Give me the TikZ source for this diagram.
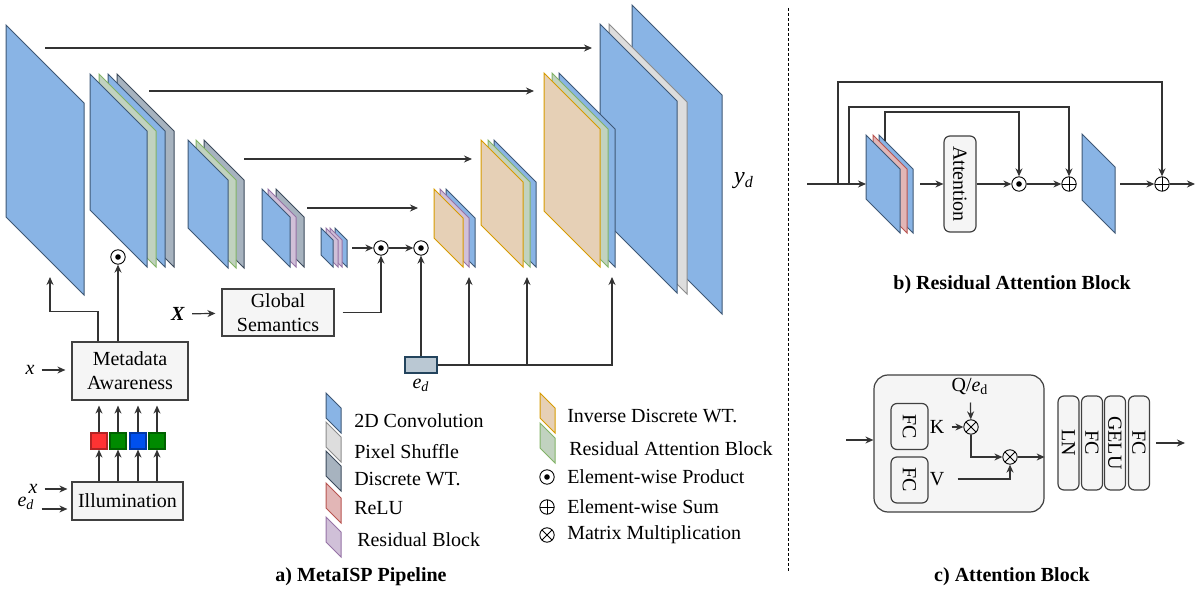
\documentclass[tikz,border=0pt]{standalone}
\usepackage{fontspec}
\setmainfont{Liberation Serif}
\usetikzlibrary{arrows.meta,positioning}

\definecolor{convfill}{RGB}{137,180,229}
\definecolor{convline}{RGB}{62,88,118}
\definecolor{dwtfill}{RGB}{167,179,191}
\definecolor{dwtline}{RGB}{60,75,92}
\definecolor{rabfill}{RGB}{193,210,191}
\definecolor{rabline}{RGB}{130,179,102}
\definecolor{shuffill}{RGB}{221,221,221}
\definecolor{shufline}{RGB}{140,140,140}
\definecolor{idwtfill}{RGB}{230,208,182}
\definecolor{idwtline}{RGB}{215,155,0}
\definecolor{relufill}{RGB}{226,182,182}
\definecolor{reluline}{RGB}{184,84,80}
\definecolor{resbfill}{RGB}{208,192,216}
\definecolor{resbline}{RGB}{150,115,166}
\definecolor{edfill}{RGB}{186,200,211}
\definecolor{edline}{RGB}{35,68,93}
\definecolor{chred}{RGB}{255,51,51}
\definecolor{chgreen}{RGB}{0,138,0}
\definecolor{chblue}{RGB}{0,80,239}

% feature map: style, left x, top y, width (= skew), height
\newcommand{\fmap}[5]{\draw[#1] (#2,#3) -- ++(#4,#4) -- ++(0,#5) -- ++(-#4,-#4) -- cycle;}

\begin{document}
\begin{tikzpicture}[x=0.5pt,y=-0.5pt,>={Stealth[length=4pt,width=3.5pt]},line width=0.6pt,
    conn/.style={->,draw=black!80},
    conv/.style={fill=convfill,draw=convline,line width=0.5pt},
    dwt/.style={fill=dwtfill,draw=dwtline,line width=0.5pt},
    rab/.style={fill=rabfill,draw=rabline,line width=0.5pt},
    shuf/.style={fill=shuffill,draw=shufline,line width=0.5pt},
    idwt/.style={fill=idwtfill,draw=idwtline,line width=0.5pt},
    relu/.style={fill=relufill,draw=reluline,line width=0.5pt},
    resb/.style={fill=resbfill,draw=resbline,line width=0.5pt},
    box/.style={draw=black!75,fill=black!4,align=center,inner sep=1pt},
    rbox/.style={box,rounded corners=3pt},
    chan/.style={fill=#1,draw=#1!70!black,minimum size=8pt,inner sep=0pt},
    op/.style={circle,draw,line width=0.45pt,inner sep=0pt,minimum size=7.2pt},
    prod/.style={op,
      path picture={\fill (path picture bounding box.center) circle (1.4pt);}},
    sum/.style={op,
      path picture={\draw[line width=0.45pt] (path picture bounding box.north) -- (path picture bounding box.south)
        (path picture bounding box.west) -- (path picture bounding box.east);}},
    mul/.style={op,
      path picture={\draw[line width=0.45pt] (path picture bounding box.north west) -- (path picture bounding box.south east)
        (path picture bounding box.south west) -- (path picture bounding box.north east);}}]

  \useasboundingbox (0,0) rectangle (1198,592);

  % encoder
  \fmap{conv}{6}{25}{78}{192}
  \fmap{dwt}{117}{74}{57}{136}
  \fmap{conv}{108}{74}{57}{136}
  \fmap{rab}{99}{74}{57}{136}
  \fmap{conv}{90}{74}{57}{136}
  \fmap{dwt}{204}{140}{40}{88}
  \fmap{rab}{196}{140}{40}{88}
  \fmap{conv}{188}{140}{40}{88}
  \fmap{dwt}{276}{189}{28}{50}
  \fmap{resb}{268}{189}{28}{50}
  \fmap{conv}{262}{189}{28}{50}
  \fmap{conv}{335}{228}{12}{27}
  \fmap{resb}{330}{228}{12}{27}
  \fmap{resb}{326}{228}{12}{27}
  \fmap{conv}{321}{228}{12}{27}

  % output
  \fmap{conv}{632}{5}{90}{219}
  \fmap{shuf}{609}{24}{78}{192}
  \fmap{conv}{600}{24}{77}{192}
  \node (yd) at (744,181) {\large\textit{y}\textsubscript{\textit{d}}};

  % decoder
  \fmap{conv}{446}{189}{29}{49}
  \fmap{resb}{440}{189}{29}{49}
  \fmap{idwt}{434}{189}{29}{49}
  \fmap{conv}{494}{140}{42}{85}
  \fmap{rab}{488}{140}{42}{85}
  \fmap{idwt}{481}{140}{42}{85}
  \fmap{conv}{559}{73}{56}{138}
  \fmap{rab}{552}{73}{56}{138}
  \fmap{idwt}{544}{73}{56}{138}

  % skip connections
  \foreach \xa/\xb/\yy [count=\i] in {45/592/48,149/534/91,244/472/159,307/418/208}{
    \coordinate (ska\i) at (\xa,\yy);
    \coordinate (skb\i) at (\xb,\yy);
    \draw[conn] (ska\i) -- (skb\i);
  }

  % bottleneck
  \coordinate (bo) at (352,248);
  \node[prod] (p1) at (381,248) {};
  \node[prod] (p2) at (421,248) {};
  \draw[conn] (bo) -- (p1);
  \draw[conn] (p1) -- (p2);

  % metadata branch
  \node[box,minimum width=58pt,minimum height=29pt] (meta) at (130,371) {Metadata\\Awareness};
  \node[box,minimum width=55.5pt,minimum height=19pt] (illum) at (127.5,501) {Illumination};
  \foreach \c/\cx [count=\i] in {chred/99,chgreen/118,chblue/138,chgreen/157}{
    \node[chan=\c] (ch\i) at (\cx,441) {};
    \draw[conn] (illum.north -| ch\i) -- (ch\i);
    \draw[conn,shorten >=2.5pt] (ch\i) -- (meta.south -| ch\i);
  }
  \node (xm) at (30,370) {\textit{x}};
  \draw[conn,shorten >=3pt] (xm.east) -- (xm.east -| meta.west);
  \node (xi) at (33,489) {\textit{x}};
  \draw[conn,shorten >=2pt] (xi.east) -- (xi.east -| illum.west);
  \node (ei) at (26,503) {\textit{e}\textsubscript{\textit{d}}};
  \draw[conn,shorten >=2pt] ([yshift=-3pt]ei.east) -- ([yshift=-3pt]ei.east -| illum.west);
  \coordinate (l0in) at (50,277);
  \draw[conn] ([xshift=-16pt]meta.north) -- ++(0,-30) -| (l0in);
  \node[prod] (pm) at (118,257) {};
  \draw[conn] ([xshift=-6pt]meta.north) -- (pm);

  % global semantics
  \node[box,minimum width=56pt,minimum height=23.5pt] (gsem) at (278,312.5) {Global\\Semantics};
  \node (xg) at (178,314) {\textbf{\textit{X}}};
  \draw[conn,shorten >=3pt] (xg) -- (gsem);
  \draw[conn,shorten <=4pt] (gsem.east) -| (p1);

  % degradation embedding
  \node[draw=edline,fill=edfill,minimum width=16pt,minimum height=8pt,inner sep=0pt] (ed) at (421,365) {};
  \node (edl) at (421,385) {\textit{e}\textsubscript{\textit{d}}};
  \draw[conn] (ed) -- (p2);
  \coordinate (d4in) at (469,277);
  \coordinate (d3in) at (527,277);
  \coordinate (d2in) at (612,277);
  \draw[conn] (ed.east) -| (d2in);
  \draw[conn] (ed.east -| d4in) -- (d4in);
  \draw[conn] (ed.east -| d3in) -- (d3in);

  % legend
  \fmap{conv}{326}{393}{15}{25}
  \fmap{shuf}{326}{422}{15}{25}
  \fmap{dwt}{326}{451}{15}{25}
  \fmap{relu}{326}{483}{15}{25}
  \fmap{resb}{326}{517}{15}{25}
  \fmap{idwt}{540}{393}{15}{25}
  \fmap{rab}{540}{423}{15}{25}
  \node[prod] (lgp) at (547,477) {};
  \node[sum] (lgs) at (547,507) {};
  \node[mul] (lgm) at (547,535) {};
  \node[anchor=west] (lg1) at (347,421) {2D Convolution};
  \node[anchor=west] (lg2) at (347,452) {Pixel Shuffle};
  \node[anchor=west] (lg3) at (347,479) {Discrete WT.};
  \node[anchor=west] (lg4) at (347,508) {ReLU};
  \node[anchor=west] (lg5) at (350,540) {Residual Block};
  \node[anchor=west] (lg6) at (560,416) {Inverse Discrete WT.};
  \node[anchor=west] (lg7) at (562,449) {Residual Attention Block};
  \node[anchor=west] (lg8) at (560,477) {Element-wise Product};
  \node[anchor=west] (lg9) at (560,507) {Element-wise Sum};
  \node[anchor=west] (lg10) at (560,535) {Matrix Multiplication};
  \node[font=\bfseries] (ta) at (361,577) {a) MetaISP Pipeline};

  % divider
  \coordinate (dvt) at (788,8);
  \coordinate (dvb) at (788,572);
  \draw[dash pattern=on 1.5pt off 1pt,line width=0.5pt] (dvt) -- (dvb);

  % b) residual attention block
  \fmap{conv}{879}{135}{34}{64}
  \fmap{relu}{873}{135}{34}{64}
  \fmap{conv}{866}{135}{34}{64}
  \fmap{conv}{1082}{134}{33}{66}
  \coordinate (rin) at (807,184);
  \coordinate (rsin) at (866,184);
  \coordinate (sk1) at (838,184);
  \coordinate (sk2) at (849,184);
  \coordinate (rtop) at (885,141);
  \coordinate (rso) at (920,184);
  \coordinate (rbo) at (1120,184);
  \coordinate (rout) at (1195,184);
  \node[rbox,rotate=-90,minimum width=48pt,minimum height=16pt] (att) at (960,184) {Attention};
  \node[prod] (rp) at (1019,184) {};
  \node[sum] (rs1) at (1069,184) {};
  \node[sum] (rs2) at (1162,184) {};
  \draw[conn] (rin) -- (rsin);
  \draw[conn] (sk1) -- ++(0,-102) -| (rs2);
  \draw[conn] (sk2) -- ++(0,-77) -| (rs1);
  \draw[conn] (rtop) -- ++(0,-29) -| (rp);
  \draw[conn] (rso) -- (att);
  \draw[conn] (att) -- (rp);
  \draw[conn] (rp) -- (rs1);
  \draw[conn] (rbo) -- (rs2);
  \draw[conn] (rs2) -- (rout);
  \node[font=\bfseries] (tb) at (1012,285) {b) Residual Attention Block};

  % c) attention block
  \coordinate (cin) at (846,440);
  \coordinate (cout) at (1185,443);
  \node[box,rounded corners=7pt,minimum width=85pt,minimum height=68.5pt] (attb) at (959,443.5) {};
  \draw[conn] (cin) -- (cin -| attb.west);
  \node[rbox,rotate=-90,minimum width=23pt,minimum height=18.5pt] (fck) at (909.5,426.5) {FC};
  \node[rbox,rotate=-90,minimum width=23pt,minimum height=18.5pt] (fcv) at (909.5,480) {FC};
  \node (kl) at (937,427) {K};
  \node (vl) at (937,479) {V};
  \node (ql) at (970,387) {Q/\textit{e}\textsubscript{d}};
  \node[mul] (m1) at (971,427) {};
  \node[mul] (m2) at (1010,457) {};
  \draw[conn] (kl) -- (m1);
  \draw[conn] (ql) -- (m1);
  \draw[conn] (m1) |- (m2);
  \draw[conn,shorten <=3pt] (vl) -| (m2);
  \draw[conn] (m2) -- (m2 -| attb.east);
  \foreach \t/\cx [count=\i] in {LN/1068.5,FC/1092,GELU/1115,FC/1139}
    \node[rbox,rotate=-90,minimum width=47pt,minimum height=10.5pt,inner sep=0pt] (ff\i) at (\cx,443) {\t};
  \draw[conn,shorten <=3pt] (ff4) -- (cout);
  \node[font=\bfseries] (tc) at (1012,577) {c) Attention Block};

\end{tikzpicture}
\end{document}
